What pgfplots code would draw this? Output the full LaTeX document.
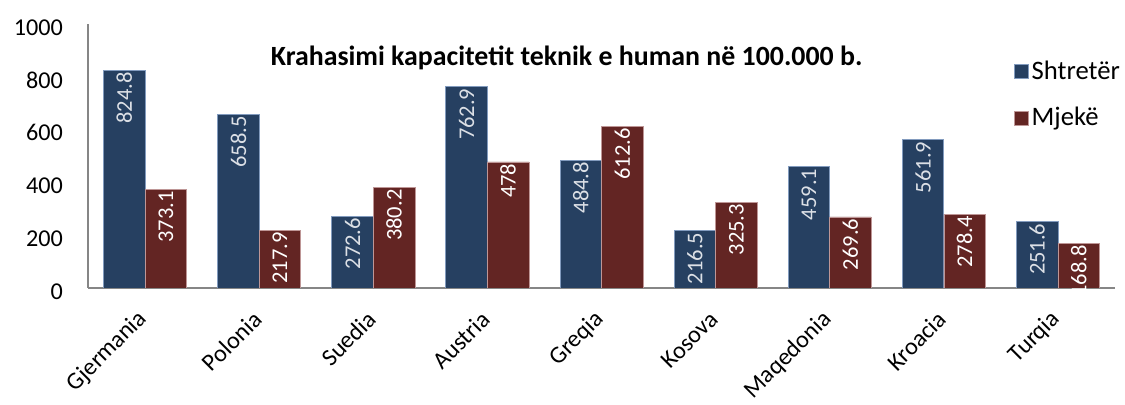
\documentclass[border=0pt]{standalone}
\usepackage{fontspec}
\setmainfont{Carlito}
\usepackage{pgfplots}
\pgfplotsset{compat=1.18}
\definecolor{barblue}{RGB}{38,64,97}
\definecolor{barred}{RGB}{99,37,35}
\definecolor{axgray}{RGB}{134,134,134}
\begin{document}
\begin{tikzpicture}
\useasboundingbox (0,0) rectangle (675pt,243pt);
\begin{axis}[
  at={(52.8pt,70.2pt)}, anchor=south west,
  scale only axis,
  width=616.2pt, height=158.4pt,
  ybar=0pt, bar width=24.9pt,
  xmin=-0.5, xmax=8.5,
  ymin=0, ymax=1000,
  ytick={0,200,...,1000},
  xtick=data,
  xticklabels={Gjermania,Polonia,Suedia,Austria,Greqia,Kosova,Maqedonia,Kroacia,Turqia},
  axis x line*=bottom, axis y line*=left,
  axis line style={draw=axgray, line width=1pt, -},
  x axis line style={line width=1.4pt},
  major tick length=0pt,
  /pgf/number format/assume math mode=true,
  /pgf/number format/1000 sep={},
  yticklabel style={font=\fontsize{14.5}{16}\selectfont, xshift=-11.5pt, yshift=-2pt},
  xticklabel style={font=\fontsize{14.5}{16}\selectfont, rotate=45, anchor=east, xshift=-8.8pt, yshift=-11pt},
  nodes near coords={\pgfmathprintnumber[assume math mode=true]{\pgfplotspointmeta}},
  every node near coord/.append style={rotate=90, anchor=east, inner sep=1pt, font=\fontsize{13.5}{15}\selectfont},
  legend style={at={(0.896,0.885)}, anchor=north west, draw=none, fill=none,
    font=\fontsize{16}{18}\selectfont, row sep=11pt,
    /tikz/every even column/.append style={column sep=3pt}},
  legend image code/.code={\fill[#1] (0pt,-4.2pt) rectangle (8.4pt,4.2pt);},
  legend cell align=left,
]
\addplot[fill=barblue, draw={rgb,255:red,130;green,155;blue,190}, line width=0.5pt,
  every node near coord/.append style={text={rgb,255:red,220;green,224;blue,230}}]
  coordinates {(0,824.8) (1,658.5) (2,272.6) (3,762.9) (4,484.8) (5,216.5) (6,459.1) (7,561.9) (8,251.6)};
\addplot[fill=barred, draw={rgb,255:red,190;green,150;blue,150}, line width=0.3pt,
  every node near coord/.append style={text=white}]
  coordinates {(0,373.1) (1,217.9) (2,380.2) (3,478) (4,612.6) (5,325.3) (6,269.6) (7,278.4) (8,168.8)};
\legend{Shtretër,Mjekë}
\node[font=\bfseries\fontsize{16.7}{19}\selectfont, anchor=center] at (axis description cs:0.466,0.871) {Krahasimi kapacitetit teknik e human në 100.000 b.};
\end{axis}
\end{tikzpicture}
\end{document}
